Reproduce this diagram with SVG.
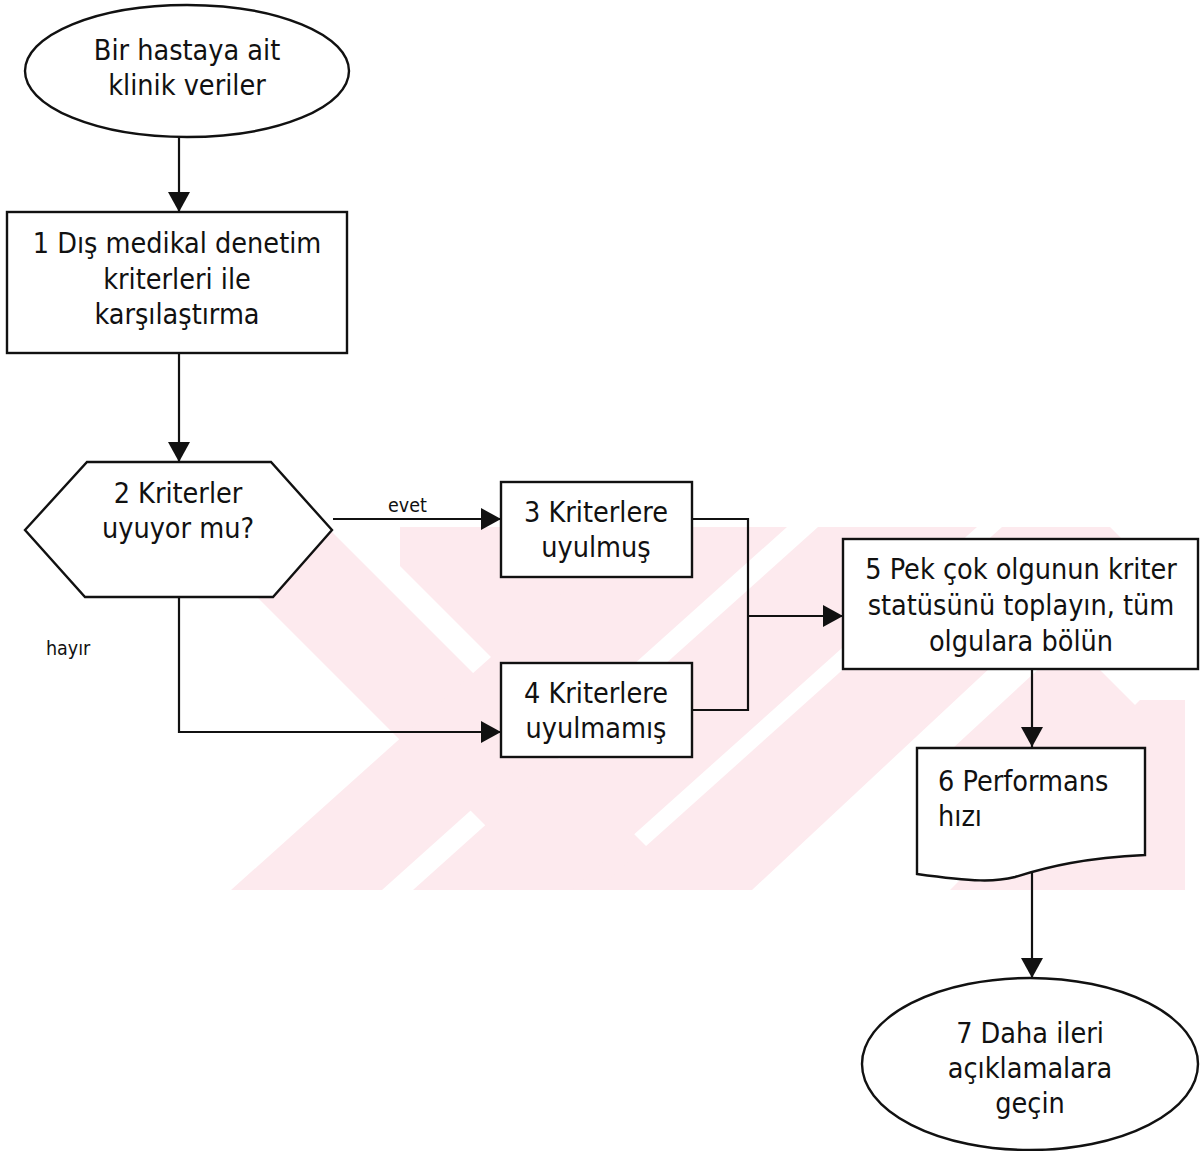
<svg xmlns="http://www.w3.org/2000/svg" width="1200" height="1151" viewBox="0 0 1200 1151">
<style>
.s{fill:#fff;stroke:#111;stroke-width:2.4}
.t{font-family:"DejaVu Sans Condensed","DejaVu Sans",sans-serif;font-size:28.5px;fill:#111;text-anchor:middle}
.tl{text-anchor:start}
.lb{font-family:"DejaVu Sans Condensed","DejaVu Sans",sans-serif;font-size:19.5px;fill:#111}
.c{fill:none;stroke:#111;stroke-width:2.2}
.wm{fill:#fdeaee}
</style>
<defs>
<marker id="ah" markerUnits="userSpaceOnUse" markerWidth="21" markerHeight="22" refX="20" refY="11" orient="auto">
<path d="M0,0 L20,11 L0,22 z" fill="#111"/>
</marker>
<clipPath id="wmc"><rect x="180" y="527" width="1005" height="363"/></clipPath>
</defs>
<rect width="1200" height="1151" fill="#fff"/>
<g id="watermark" clip-path="url(#wmc)">
<polygon class="wm" points="187,527 327,527 690,890 550,890"/>
<polygon class="wm" points="400,527 600,527 650,577 527,693 400,566"/>
<polygon class="wm" points="636,527 787,527 382,890 231,890"/>
<polygon class="wm" points="818,527 977,527 572,890 413,890"/>
<polygon class="wm" points="1002,527 1110,527 1125,542 752,890 597,890"/>
<polygon class="wm" points="1140,700 1185,700 1185,890 950,890"/>
<polygon class="wm" points="940,760 1070,640 1185,755 1185,890 1070,890"/>
</g>
<g id="connectors">
<path class="c" d="M179,137 V212" marker-end="url(#ah)"/>
<path class="c" d="M179,353 V462" marker-end="url(#ah)"/>
<path class="c" d="M333,519 H501" marker-end="url(#ah)"/>
<path class="c" d="M179,597 V732 H501" marker-end="url(#ah)"/>
<path class="c" d="M692,519 H748 V710 H692"/>
<path class="c" d="M748,616 H843" marker-end="url(#ah)"/>
<path class="c" d="M1032,668 V747" marker-end="url(#ah)"/>
<path class="c" d="M1032,868 V978" marker-end="url(#ah)"/>
<text class="lb" x="388" y="512">evet</text>
<text class="lb" x="46" y="655">hayır</text>
</g>
<g id="start">
<ellipse class="s" cx="187" cy="71" rx="162" ry="66"/>
<text class="t" x="187" y="60">Bir hastaya ait</text>
<text class="t" x="187" y="95">klinik veriler</text>
</g>
<g id="n1">
<rect class="s" x="7" y="212" width="340" height="141"/>
<text class="t" x="177" y="253">1 Dış medikal denetim</text>
<text class="t" x="177" y="289">kriterleri ile</text>
<text class="t" x="177" y="324">karşılaştırma</text>
</g>
<g id="n2">
<polygon class="s" points="25,530 87,462 271,462 332,530 273,597 85,597"/>
<text class="t" x="178" y="503">2 Kriterler</text>
<text class="t" x="178" y="538">uyuyor mu?</text>
</g>
<g id="n3">
<rect class="s" x="501" y="482" width="191" height="95"/>
<text class="t" x="596" y="522">3 Kriterlere</text>
<text class="t" x="596" y="557">uyulmuş</text>
</g>
<g id="n4">
<rect class="s" x="501" y="663" width="191" height="94"/>
<text class="t" x="596" y="703">4 Kriterlere</text>
<text class="t" x="596" y="738">uyulmamış</text>
</g>
<g id="n5">
<rect class="s" x="843" y="539" width="355" height="130"/>
<text class="t" x="1021" y="579">5 Pek çok olgunun kriter</text>
<text class="t" x="1021" y="615">statüsünü toplayın, tüm</text>
<text class="t" x="1021" y="651">olgulara bölün</text>
</g>
<g id="n6">
<path class="s" d="M917,748 H1145 V855 C1085,858 1050,866 1015,877 C995,882 975,882 917,874 Z"/>
<text class="t tl" x="938" y="791">6 Performans</text>
<text class="t tl" x="938" y="826">hızı</text>
</g>
<g id="n7">
<ellipse class="s" cx="1030" cy="1064" rx="168" ry="86"/>
<text class="t" x="1030" y="1043">7 Daha ileri</text>
<text class="t" x="1030" y="1078">açıklamalara</text>
<text class="t" x="1030" y="1113">geçin</text>
</g>
</svg>
